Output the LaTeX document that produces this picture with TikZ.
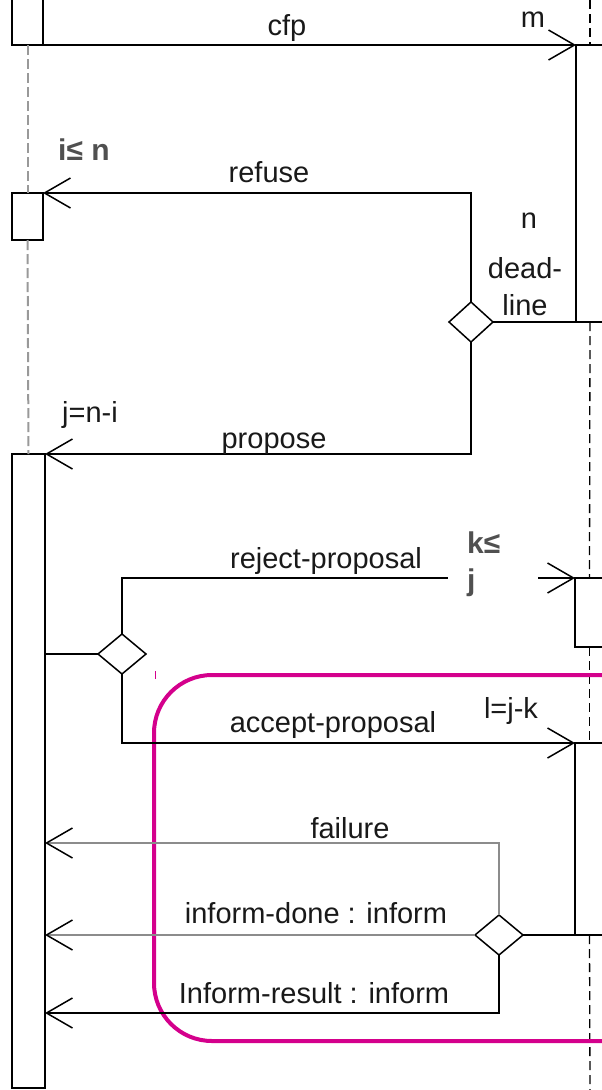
\documentclass[tikz,border=0pt]{standalone}
\usepackage{fontspec}
\setmainfont{Liberation Sans}
\usetikzlibrary{arrows.meta,shapes.geometric}
\definecolor{mag}{RGB}{212,0,140}
\definecolor{lbl}{RGB}{80,80,80}
\begin{document}
\begin{tikzpicture}[x=1pt,y=-1pt,
  ln/.style={line width=1.5pt, draw=black},
  msg/.style={ln, -{Straight Barb[length=26pt,width=30pt,line width=1.5pt,color=black]}},
  msggray/.style={msg, draw=black!45},
  box/.style={ln, rectangle, inner sep=0pt, outer sep=0pt, fill=white},
  dia/.style={ln, diamond, inner sep=0pt, outer sep=0pt, fill=white},
  lifeG/.style={draw=black!40, line width=2pt, dash pattern=on 10pt off 4pt},
  lifeB/.style={draw=black, line width=1.3pt, dash pattern=on 9pt off 5pt},
  txt/.style={font=\fontsize{29pt}{37pt}\selectfont, inner sep=0pt, anchor=base, text=black!90},
  cond/.style={txt, font=\fontsize{30pt}{37pt}\selectfont\bfseries, text=lbl, anchor=base west},
  magframe/.style={draw=mag, line width=4pt, rounded corners=58pt}
]
\useasboundingbox (0,0) rectangle (602,1090);
\path[clip] (0,0) rectangle (602,1090);

% activation boxes
\node[box, minimum width=31pt, minimum height=80pt, anchor=south west] (topbox) at (12,45) {};
\node[box, minimum width=31pt, minimum height=47pt, anchor=north west] (refbox) at (12,193) {};
\node[box, minimum width=33pt, minimum height=634pt, anchor=north west] (propbox) at (12,454) {};
\node[box, minimum width=28pt, minimum height=277pt, anchor=north west] (m1box) at (576,45) {};
\node[box, minimum width=29pt, minimum height=69pt, anchor=north west] (rejbox) at (575,578) {};
\node[box, minimum width=29pt, minimum height=192pt, anchor=north west] (accbox) at (575,743) {};

% lifelines
\coordinate (rtop) at (590,0);
\coordinate (rbot) at (590,1090);
\draw[lifeG] (topbox.south) -- (refbox.north);
\draw[lifeG] (refbox.south) -- (propbox.north);
\draw[lifeB] (rtop) -- (m1box.north);
\draw[lifeB] (m1box.south) -- (rejbox.north);
\draw[lifeB] (rejbox.south) -- (accbox.north);
\draw[lifeB] (accbox.south) -- (rbot);

% diamonds
\node[dia, minimum width=44pt, minimum height=40pt] (d1) at (471,322) {};
\node[dia, minimum width=48pt, minimum height=40pt] (d2) at (122,654) {};
\node[dia, minimum width=48pt, minimum height=40pt] (d3) at (499,935) {};

% frame
\draw[magframe] (700,675) -- (154,675) -- (154,1041) -- (700,1041);
\coordinate (tickA) at (155,671);
\coordinate (tickB) at (155,679);
\draw[draw=mag, line width=1pt] (tickA) -- (tickB);

% cfp
\coordinate (cfpS) at (43,45);
\draw[msg] (cfpS) -- (m1box.north west);
\node[txt] (lcfp) at (287,35) {cfp};
\node[txt] (lm) at (533,27) {m};

% refuse / propose
\draw[msg] (d1.north) |- (refbox.north east);
\draw[msg] (d1.south) |- (propbox.north east);
\draw[ln] (d1.east) -- (m1box.south east);
\node[cond] (lin) at (58,160) {i≤ n};
\node[txt] (lref) at (269,182) {refuse};
\node[txt] (ln1) at (529,228) {n};
\node[txt] (ldl1) at (525,278) {dead-};
\node[txt] (ldl2) at (525,315) {line};
\node[txt, anchor=base west] (ljni) at (62,422) {j=n-i};
\node[txt] (lprop) at (274,448) {propose};

% reject / accept
\draw[ln] (propbox.east |- d2.west) -- (d2.west);
\coordinate (rjA) at (448,578);
\coordinate (rjB) at (538,578);
\draw[ln] (d2.north) |- (rjA);
\draw[msg] (rjB) -- (rejbox.north west);
\node[txt] (lrej) at (326,568) {reject-proposal};
\node[cond] (lk1) at (467,553) {k≤};
\node[cond] (lk2) at (467,590) {j};
\draw[msg] (d2.south) |- (accbox.north west);
\node[txt] (lacc) at (333,732) {accept-proposal};
\node[txt] (ljk) at (511,718) {l=j-k};

% results
\draw[ln] (d3.east) -- (accbox.south west);
\coordinate (fT) at (45,843);
\coordinate (dT) at (45,935);
\coordinate (rT) at (45,1013);
\draw[msggray] (d3.north) |- (fT);
\draw[msggray] (d3.west) -- (dT);
\draw[msg] (d3.south) |- (rT);
\node[txt] (lfail) at (350,838) {failure};
\node[txt] (ldone) at (316,923) {inform-done : inform};
\node[txt] (lres) at (314,1003) {Inform-result : inform};
\end{tikzpicture}
\end{document}
